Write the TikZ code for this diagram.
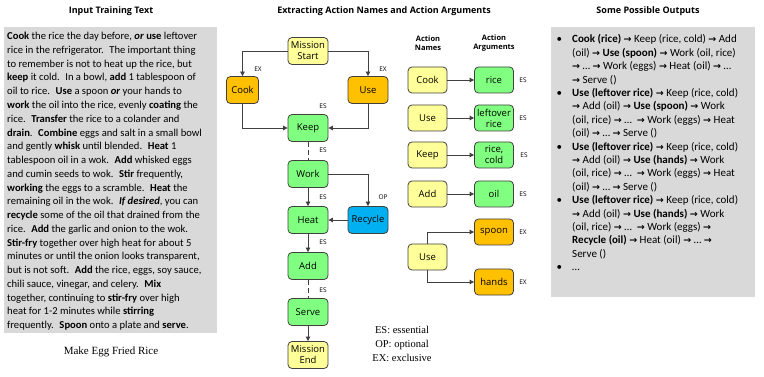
\documentclass[tikz,border=0pt]{standalone}
\usepackage{fontspec}
\setmainfont{Carlito}
\newfontfamily\nodefont{Open Sans}
\newfontfamily\serifont{Liberation Serif}
\newfontfamily\arrowfont{DejaVu Sans}
\usetikzlibrary{arrows.meta}
\definecolor{ylw}{HTML}{FFFF99}
\definecolor{org}{HTML}{FFC000}
\definecolor{grn}{HTML}{80FF80}
\definecolor{blu}{HTML}{00B0F0}
\definecolor{panelgrey}{HTML}{D9D9D9}
\definecolor{edge}{HTML}{404040}
\newcommand\ra{{\arrowfont\bfseries\fontsize{9.5}{9.5}\selectfont\char"2192}}
\newcommand\bul{\llap{•\hspace{10pt}}}
\newcommand\topstrut{\rule{0pt}{8pt}}
\begin{document}
\begin{tikzpicture}[x=1pt,y=-1pt,
  box/.style={draw=edge, line width=0.8pt, rounded corners=4pt, minimum width=40pt, minimum height=27pt, inner sep=1pt, align=center, font=\nodefont\fontsize{9.5}{11}\selectfont},
  abox/.style={box, minimum width=39pt, minimum height=26pt},
  conn/.style={draw=edge, line width=0.8pt},
  arr/.style={conn, -{Triangle[length=4.5pt,width=4.5pt]}},
  tag/.style={font=\nodefont\fontsize{6.5}{7}\selectfont, inner sep=0pt},
  ttl/.style={font=\nodefont\bfseries\fontsize{9}{11}\selectfont, inner sep=0pt},
  panel/.style={fill=panelgrey, draw=none, inner sep=0pt, anchor=north west},
  body/.style={inner sep=0pt, anchor=north west, align=left}
]
\useasboundingbox (0,0) rectangle (764,377);

% titles
\node[ttl] (t1) at (111,11) {Input Training Text};
\node[ttl] (t2) at (384,11) {Extracting Action Names and Action Arguments};
\node[ttl] (t3) at (648,11) {Some Possible Outputs};

% left panel
\node[panel, minimum width=213pt, minimum height=306pt] (lpanel) at (4,27) {};
\node[body, font=\fontsize{10.6}{13.76}\selectfont] (ltext) at (7,31.5) {%
\topstrut\textbf{Cook} the rice the day before, \textbf{\textit{or}} \textbf{use} leftover\\
rice in the refrigerator.~ The important thing\\
to remember is not to heat up the rice, but\\
\textbf{keep} it cold.~ In a bowl, \textbf{add} 1 tablespoon of\\
oil to rice.~ \textbf{Use} a spoon \textbf{\textit{or}} your hands to\\
\textbf{work} the oil into the rice, evenly \textbf{coating} the\\
rice.~ \textbf{Transfer} the rice to a colander and\\
\textbf{drain}.~ \textbf{Combine} eggs and salt in a small bowl\\
and gently \textbf{whisk} until blended.~ \textbf{Heat} 1\\
tablespoon oil in a wok.~ \textbf{Add} whisked eggs\\
and cumin seeds to wok.~ \textbf{Stir} frequently,\\
\textbf{working} the eggs to a scramble.~ \textbf{Heat} the\\
remaining oil in the wok.~ \textbf{\textit{If desired}}, you can\\
\textbf{recycle} some of the oil that drained from the\\
rice.~ \textbf{Add} the garlic and onion to the wok.\\
\textbf{Stir-fry} together over high heat for about 5\\
minutes or until the onion looks transparent,\\
but is not soft.~ \textbf{Add} the rice, eggs, soy sauce,\\
chili sauce, vinegar, and celery.~ \textbf{Mix}\\
together, continuing to \textbf{stir-fry} over high\\
heat for 1-2 minutes while \textbf{stirring}\\
frequently.~ \textbf{Spoon} onto a plate and \textbf{serve}.};
\node[font=\serifont\fontsize{11}{13}\selectfont] (cap) at (111,352) {Make Egg Fried Rice};

% flow
\node[box, fill=ylw] (ms) at (308,51) {Mission\\Start};
\node[box, fill=org, minimum width=32pt] (cook) at (242.5,90) {Cook};
\node[box, fill=org] (use) at (368,90) {Use};
\node[box, fill=grn] (keep) at (308,128) {Keep};
\node[box, fill=grn] (work) at (308,174) {Work};
\node[box, fill=grn] (heat) at (308,220) {Heat};
\node[box, fill=blu] (recyc) at (368,220) {Recycle};
\node[box, fill=grn] (add) at (308,266) {Add};
\node[box, fill=grn] (serve) at (308,312) {Serve};
\node[box, fill=ylw] (me) at (308,355) {Mission\\End};

\draw[arr] (ms.west) -| (cook.north);
\draw[arr] (ms.east) -| (use.north);
\draw[arr] (cook.south) |- (keep.west);
\draw[arr] (use.south) |- (keep.east);
\draw[conn, dash pattern=on 5pt off 3pt] (keep) -- (work);
\draw[arr] (work) -- (heat);
\draw[arr] (work.east) -| (recyc.north);
\draw[arr] (recyc) -- (heat);
\draw[arr] (heat) -- (add);
\draw[conn, dash pattern=on 5pt off 3pt] (add) -- (serve);
\draw[arr] (serve) -- (me);

\node[tag] (g1) at (258,69) {EX};
\node[tag] (g2) at (383,69) {EX};
\node[tag] (g3) at (323,106) {ES};
\node[tag] (g4) at (323,150) {ES};
\node[tag] (g5) at (323,197) {ES};
\node[tag] (g6) at (383,197) {OP};
\node[tag] (g7) at (323,242) {ES};
\node[tag] (g8) at (323,290) {ES};

\node[font=\serifont\fontsize{10.5}{14}\selectfont, align=center] (legend) at (402,344) {ES: essential\\OP: optional\\EX: exclusive};

% action names / arguments
\node[font=\nodefont\bfseries\fontsize{7.5}{9.5}\selectfont, align=center] (hn) at (428,43) {Action\\Names};
\node[font=\nodefont\bfseries\fontsize{7.5}{9.5}\selectfont, align=center] (ha) at (494,43) {Action\\Arguments};

\node[abox, fill=ylw] (an1) at (427.5,80) {Cook};
\node[abox, fill=grn] (aa1) at (494,80) {rice};
\node[abox, fill=ylw] (an2) at (427.5,118) {Use};
\node[abox, fill=grn] (aa2) at (494,118) {leftover\\rice};
\node[abox, fill=ylw] (an3) at (427.5,155) {Keep};
\node[abox, fill=grn] (aa3) at (494,155) {rice,\\cold};
\node[abox, fill=ylw] (an4) at (427.5,194) {Add};
\node[abox, fill=grn] (aa4) at (494,194) {oil};
\node[abox, fill=ylw] (an5) at (427.5,257) {Use};
\node[abox, fill=org] (aa5) at (494,232) {spoon};
\node[abox, fill=org] (aa6) at (494,282) {hands};

\draw[arr] (an1) -- (aa1);
\draw[arr] (an2) -- (aa2);
\draw[arr] (an3) -- (aa3);
\draw[arr] (an4) -- (aa4);
\draw[arr] (an5.north) |- (aa5.west);
\draw[arr] (an5.south) |- (aa6.west);

\node[tag] (r1) at (523,80) {ES};
\node[tag] (r2) at (523,118) {ES};
\node[tag] (r3) at (524,155) {ES};
\node[tag] (r4) at (523,194) {ES};
\node[tag] (r5) at (523,232) {EX};
\node[tag] (r6) at (523,282) {EX};

% right panel
\node[panel, minimum width=204pt, minimum height=270pt] (rpanel) at (551,27) {};
\node[body, font=\fontsize{11}{13.4}\selectfont] (rtext) at (572,34.5) {%
\topstrut\bul\textbf{Cook (rice)} \ra{} Keep (rice, cold) \ra{} Add\\
(oil) \ra{} \textbf{Use (spoon)} \ra{} Work (oil, rice)\\
\ra{} … \ra{} Work (eggs) \ra{} Heat (oil) \ra{} …\\
\ra{} Serve ()\\
\bul\textbf{Use (leftover rice)} \ra{} Keep (rice, cold)\\
\ra{} Add (oil) \ra{} \textbf{Use (spoon)} \ra{} Work\\
(oil, rice) \ra{} …~ \ra{} Work (eggs) \ra{} Heat\\
(oil) \ra{} … \ra{} Serve ()\\
\bul\textbf{Use (leftover rice)} \ra{} Keep (rice, cold)\\
\ra{} Add (oil) \ra{} \textbf{Use (hands)} \ra{} Work\\
(oil, rice) \ra{} …~ \ra{} Work (eggs) \ra{} Heat\\
(oil) \ra{} … \ra{} Serve ()\\
\bul\textbf{Use (leftover rice)} \ra{} Keep (rice, cold)\\
\ra{} Add (oil) \ra{} \textbf{Use (hands)} \ra{} Work\\
(oil, rice) \ra{} …~ \ra{} Work (eggs) \ra{}\\
\textbf{Recycle (oil)} \ra{} Heat (oil) \ra{} … \ra{}\\
Serve ()\\
\bul…};
\end{tikzpicture}
\end{document}
